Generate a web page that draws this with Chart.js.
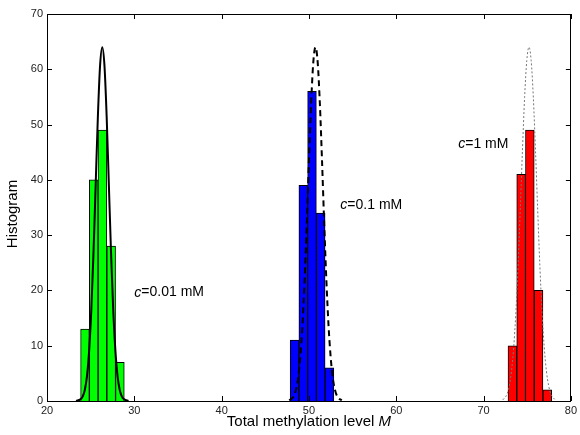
<!DOCTYPE html>
<html>
<head>
<meta charset="utf-8">
<script src="https://cdn.jsdelivr.net/npm/chart.js@4"></script>
<style>
  html, body { margin: 0; padding: 0; background: #fff; }
  #wrap { width: 580px; height: 435px; }
</style>
</head>
<body>
<div id="wrap"><canvas id="histChart"></canvas></div>
<script>
// histogram bins (bin centres) and counts
const greenCenters = [24.35, 25.35, 26.35, 27.35, 28.35];
const greenCounts = [13, 40, 49, 28, 7];
const blueCenters = [48.35, 49.35, 50.35, 51.35, 52.35];
const blueCounts = [11, 39, 56, 34, 6];
const redCenters = [73.3, 74.3, 75.3, 76.3, 77.3];
const redCounts = [10, 41, 49, 20, 2];

// fitted curves (estimated points)
const solidX = [23.33, 23.83, 24.08, 24.33, 24.58, 24.83, 25.08, 25.33, 25.58, 25.83, 26.08, 26.33,
  26.58, 26.83, 27.08, 27.33, 27.58, 27.83, 28.08, 28.33, 28.58, 28.83, 29.33];
const solidY = [0, 0.3, 0.8, 2.0, 4.5, 9.2, 16.7, 27.0, 39.4, 51.6, 60.7, 64,
  60.7, 51.6, 39.4, 27.0, 16.7, 9.2, 4.5, 2.0, 0.8, 0.3, 0];
const dashedX = [47.75, 48.25, 48.5, 48.75, 49.0, 49.25, 49.5, 49.75, 50.0, 50.25, 50.5, 50.75,
  51.0, 51.25, 51.5, 51.75, 52.0, 52.25, 52.5, 52.75, 53.0, 53.25, 53.75];
const dashedY = [0.1, 0.8, 1.9, 4.0, 7.7, 13.5, 21.7, 32.0, 43.4, 53.8, 61.3, 64,
  61.3, 53.8, 43.4, 32.0, 21.7, 13.5, 7.7, 4.0, 1.9, 0.8, 0.1];
const dottedX = [72.2, 72.7, 72.95, 73.2, 73.45, 73.7, 73.95, 74.2, 74.45, 74.7, 74.95, 75.2,
  75.45, 75.7, 75.95, 76.2, 76.45, 76.7, 76.95, 77.2, 77.45, 77.7, 78.2];
const dottedY = [0.2, 1.3, 2.8, 5.4, 9.7, 16.0, 24.4, 34.5, 45.2, 54.9, 61.6, 64,
  61.6, 54.9, 45.2, 34.5, 24.4, 16.0, 9.7, 5.4, 2.8, 1.3, 0.2];

// text labels (italic "c" is added in front)
const labelX = [30.0, 53.6, 67.1];
const labelY = [19.6, 35.4, 46.4];
const labelText = ["=0.01 mM", "=0.1 mM", "=1 mM"];

const xTitle = "Total methylation level ";
const yTitle = "Histogram";

const FONT = "Arial, 'Liberation Sans', sans-serif";

const toPoints = (xs, ys) => xs.map((x, i) => ({ x: x, y: ys[i] }));

function barSet(xs, ys, color) {
  return {
    type: "bar",
    data: toPoints(xs, ys),
    backgroundColor: color,
    borderColor: "#000",
    borderWidth: 1,
    grouped: false,
    barPercentage: 1,
    categoryPercentage: 1,
    order: 2,
  };
}

function lineSet(xs, ys, width, dash, color) {
  return {
    type: "line",
    data: toPoints(xs, ys),
    borderColor: color,
    borderWidth: width,
    borderDash: dash,
    pointRadius: 0,
    fill: false,
    cubicInterpolationMode: "monotone",
    order: 1,
  };
}

// MATLAB style box, inward ticks, titles and italic text
const boxPlugin = {
  id: "boxPlugin",
  afterDraw(chart) {
    const ctx = chart.ctx;
    const a = chart.chartArea;
    const xs = chart.scales.x;
    const ys = chart.scales.y;
    ctx.save();
    ctx.strokeStyle = "#000";
    ctx.lineWidth = 1;
    ctx.strokeRect(Math.round(a.left) + 0.5, Math.round(a.top) + 0.5,
      Math.round(a.right - a.left) - 1, Math.round(a.bottom - a.top));
    ctx.beginPath();
    xs.ticks.forEach((t) => {
      const px = Math.round(xs.getPixelForValue(t.value)) + 0.5;
      ctx.moveTo(px, a.bottom); ctx.lineTo(px, a.bottom - 5);
      ctx.moveTo(px, a.top); ctx.lineTo(px, a.top + 5);
    });
    ys.ticks.forEach((t) => {
      const py = Math.round(ys.getPixelForValue(t.value)) + 0.5;
      ctx.moveTo(a.left, py); ctx.lineTo(a.left + 5, py);
      ctx.moveTo(a.right, py); ctx.lineTo(a.right - 5, py);
    });
    ctx.stroke();

    // annotations
    ctx.fillStyle = "#000";
    ctx.textBaseline = "middle";
    ctx.textAlign = "left";
    labelText.forEach((txt, i) => {
      let px = xs.getPixelForValue(labelX[i]);
      const py = ys.getPixelForValue(labelY[i]);
      ctx.font = "italic 14px " + FONT;
      ctx.fillText("c", px, py);
      px += ctx.measureText("c").width;
      ctx.font = "14px " + FONT;
      ctx.fillText(txt, px, py);
    });

    // x axis title
    ctx.font = "15px " + FONT;
    const w1 = ctx.measureText(xTitle).width;
    ctx.font = "italic 15px " + FONT;
    const w2 = ctx.measureText("M").width;
    const tx = (a.left + a.right) / 2 - (w1 + w2) / 2;
    const ty = 422;
    ctx.font = "15px " + FONT;
    ctx.fillText(xTitle, tx, ty);
    ctx.font = "italic 15px " + FONT;
    ctx.fillText("M", tx + w1, ty);

    // y axis title
    ctx.translate(13, 214);
    ctx.rotate(-Math.PI / 2);
    ctx.textAlign = "center";
    ctx.font = "15px " + FONT;
    ctx.fillText(yTitle, 0, 0);
    ctx.restore();
  },
};

const chart = new Chart(document.getElementById("histChart"), {
  type: "bar",
  data: {
    datasets: [
      barSet(greenCenters, greenCounts, "#00ff00"),
      barSet(blueCenters, blueCounts, "#0000ff"),
      barSet(redCenters, redCounts, "#ff0000"),
      lineSet(solidX, solidY, 2, [], "#000"),
      lineSet(dashedX, dashedY, 2, [6, 4], "#000"),
      lineSet(dottedX, dottedY, 1, [2, 2], "#777"),
    ],
  },
  options: {
    responsive: true,
    maintainAspectRatio: false,
    animation: false,
    layout: { padding: { top: 14, right: 4, left: 0, bottom: 0 } },
    plugins: {
      legend: { display: false },
      tooltip: { enabled: false },
    },
    scales: {
      x: {
        type: "linear",
        min: 20,
        max: 80,
        offset: false,
        grid: { display: false, drawTicks: false, tickLength: 0 },
        border: { display: false },
        ticks: {
          stepSize: 10,
          color: "#222",
          font: { size: 11, family: FONT },
          padding: 3,
          maxRotation: 0,
        },
        afterFit: (s) => { s.height = 34; },
      },
      y: {
        min: 0,
        max: 70,
        grid: { display: false, drawTicks: false, tickLength: 0 },
        border: { display: false },
        ticks: {
          stepSize: 10,
          color: "#222",
          font: { size: 11, family: FONT },
          padding: 4,
        },
        afterFit: (s) => { s.width = 47; },
      },
    },
  },
  plugins: [boxPlugin],
});
</script>
</body>
</html>
